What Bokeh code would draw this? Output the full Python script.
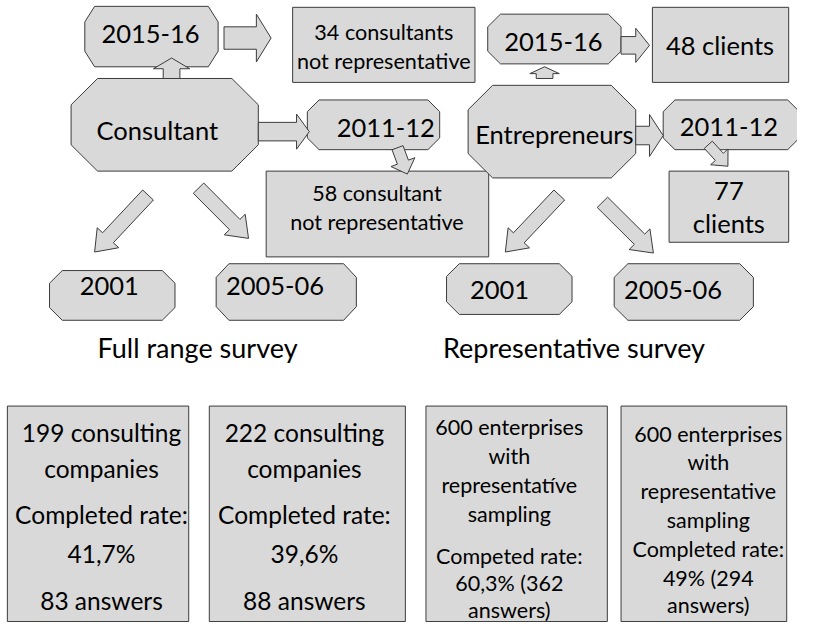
import math
from bokeh.plotting import figure
from bokeh.models import Range1d, ColumnDataSource
from bokeh.core.properties import value
from bokeh.embed import file_html
from bokeh.resources import INLINE

FONT = "Lato"
FILL = "#d9d9d9"
EDGE = "#3c3c3c"

# ---------------- content (texts) ----------------
oct_labels = ["2015-16", "Consultant", "2011-12", "2001", "2005-06",
              "2015-16", "Entrepreneurs", "2011-12", "2001", "2005-06"]
box_lines = ["34 consultants", "not representative",
             "58 consultant", "not representative",
             "48 clients",
             "77", "clients"]
survey_titles = ["Full range survey", "Representative survey"]
survey1_lines = ["199 consulting", "companies", "Completed rate:", "41,7%", "83 answers"]
survey2_lines = ["222 consulting", "companies", "Completed rate:", "39,6%", "88 answers"]
survey3_lines = ["600 enterprises", "with", "representatíve", "sampling",
                 "Competed rate:", "60,3% (362", "answers)"]
survey4_lines = ["600 enterprises", "with", "representative", "sampling",
                 "Completed rate:", "49% (294", "answers)"]

# ---------------- layout (positions, sizes) ----------------
# octagons: x0, x1, y0, y1, corner cut x, corner cut y
oct_x0 = [86, 72, 313, 50, 220, 497, 477, 676, 455, 626]
oct_x1 = [222, 263, 448, 178, 363, 633, 648, 815, 583, 768]
oct_y0 = [6, 80, 102, 277, 270, 14, 87, 102, 270, 270]
oct_y1 = [68, 175, 153, 328, 328, 65, 182, 153, 322, 328]
oct_cx = [10, 27, 12, 13, 13, 13, 25, 12, 13, 14]
oct_cy = [16, 27, 12, 13, 14, 13, 25, 12, 13, 14]
oct_tx = [153, 160, 393, 111, 280, 564, 565, 743, 509, 686]
oct_ty = [34, 133, 131, 293, 293, 43, 137, 130, 297, 297]

# rectangles
rect_l = [298, 271, 665, 682]
rect_r = [484, 498, 804, 804]
rect_t = [7, 175, 7, 175]
rect_b = [84, 263, 84, 248]
box_tx = [391, 391, 384, 384, 734, 743, 743]
box_ty = [32, 62, 197, 227, 46, 195, 228]
box_fs = ["22px", "22px", "22px", "22px", "26px", "26px", "26px"]

# arrows: tail x,y  tip x,y  body width, head width, head length
arr_tx = [228, 174.5, 263, 405, 633, 555, 648, 722, 150.5, 202, 570, 614]
arr_ty = [38.5, 80, 134.5, 151, 46, 80, 138.5, 148, 199.5, 192.5, 199.5, 207]
arr_hx = [276, 174.5, 315, 415, 662, 555, 676, 742, 96, 253, 515, 666]
arr_hy = [38.5, 59, 134.5, 178, 46, 68, 138.5, 170, 258, 244, 258, 259]
arr_bw = [23, 17, 19, 12, 18, 17, 19, 11, 15, 15, 15, 15]
arr_hw = [49, 37, 36, 26, 35, 30, 43, 24, 30, 30, 30, 30]
arr_hl = [15, 11, 13, 13, 14, 7, 14, 13, 20, 20, 20, 20]

# survey boxes
sv_l = [7, 213, 434, 633]
sv_r = [192, 413, 619, 802]
sv_t = [416, 416, 416, 416]
sv_b = [637, 637, 637, 637]
title_x = [201, 585]
title_y = [356, 356]
sv_cx = [103, 310, 519, 722]
sv1_y = [443, 480, 527, 567, 615]
sv3_y = [437, 467, 497, 527, 570, 597, 625]
sv4_y = [445, 473, 503, 533, 563, 592, 620]


def octagon(x0, x1, y0, y1, cx, cy):
    xs = [x0 + cx, x1 - cx, x1, x1, x1 - cx, x0 + cx, x0, x0]
    ys = [y0, y0, y0 + cy, y1 - cy, y1, y1, y1 - cy, y0 + cy]
    return xs, ys


def arrow(tx, ty, hx, hy, bw, hw, hl):
    dx, dy = hx - tx, hy - ty
    L = math.hypot(dx, dy)
    ux, uy = dx / L, dy / L
    px, py = -uy, ux
    bx, by = hx - ux * hl, hy - uy * hl
    pts = [(tx + px * bw / 2, ty + py * bw / 2),
           (bx + px * bw / 2, by + py * bw / 2),
           (bx + px * hw / 2, by + py * hw / 2),
           (hx, hy),
           (bx - px * hw / 2, by - py * hw / 2),
           (bx - px * bw / 2, by - py * bw / 2),
           (tx - px * bw / 2, ty - py * bw / 2)]
    return [q[0] for q in pts], [q[1] for q in pts]


p = figure(width=797, height=622, output_backend="svg", toolbar_location=None,
           x_range=Range1d(0, 813), y_range=Range1d(638, 0),
           x_axis_location=None, y_axis_location=None, min_border=0)
p.outline_line_color = None
p.grid.visible = False
p.background_fill_color = "white"
p.border_fill_color = "white"

# rectangles
p.quad(left=rect_l, right=rect_r, top=rect_t, bottom=rect_b,
       fill_color=FILL, line_color=EDGE, line_width=1)

# octagons
oxs, oys = [], []
for i in range(len(oct_labels)):
    xs, ys = octagon(oct_x0[i], oct_x1[i], oct_y0[i], oct_y1[i], oct_cx[i], oct_cy[i])
    oxs.append(xs)
    oys.append(ys)
p.patches(oxs, oys, fill_color=FILL, line_color=EDGE, line_width=1)

# arrows
axs, ays = [], []
for i in range(len(arr_tx)):
    xs, ys = arrow(arr_tx[i], arr_ty[i], arr_hx[i], arr_hy[i], arr_bw[i], arr_hw[i], arr_hl[i])
    axs.append(xs)
    ays.append(ys)
p.patches(axs, ays, fill_color=FILL, line_color=EDGE, line_width=1)

# survey boxes
p.quad(left=sv_l, right=sv_r, top=sv_t, bottom=sv_b,
       fill_color=FILL, line_color=EDGE, line_width=1)


def add_text(xs, ys, texts, size):
    src = ColumnDataSource(dict(x=xs, y=ys, t=texts))
    p.text(x="x", y="y", text="t", source=src, text_font=value(FONT),
           text_font_size=size, text_align="center", text_baseline="middle",
           text_color="black")


add_text(oct_tx, oct_ty, oct_labels, value("25.5px"))

src = ColumnDataSource(dict(x=box_tx, y=box_ty, t=box_lines,
                            fs=[f"{float(s[:-2]) * 0.98:.1f}px" for s in box_fs]))
p.text(x="x", y="y", text="t", source=src, text_font=value(FONT),
       text_font_size="fs", text_align="center", text_baseline="middle",
       text_color="black")

add_text(title_x, title_y, survey_titles, value("27px"))
add_text([sv_cx[0]] * len(survey1_lines), sv1_y, survey1_lines, value("24.5px"))
add_text([sv_cx[1]] * len(survey2_lines), sv1_y, survey2_lines, value("24.5px"))
add_text([sv_cx[2]] * len(survey3_lines), sv3_y, survey3_lines, value("21.5px"))
add_text([sv_cx[3]] * len(survey4_lines), sv4_y, survey4_lines, value("21.5px"))

open("out.html", "w").write(file_html(p, INLINE))
